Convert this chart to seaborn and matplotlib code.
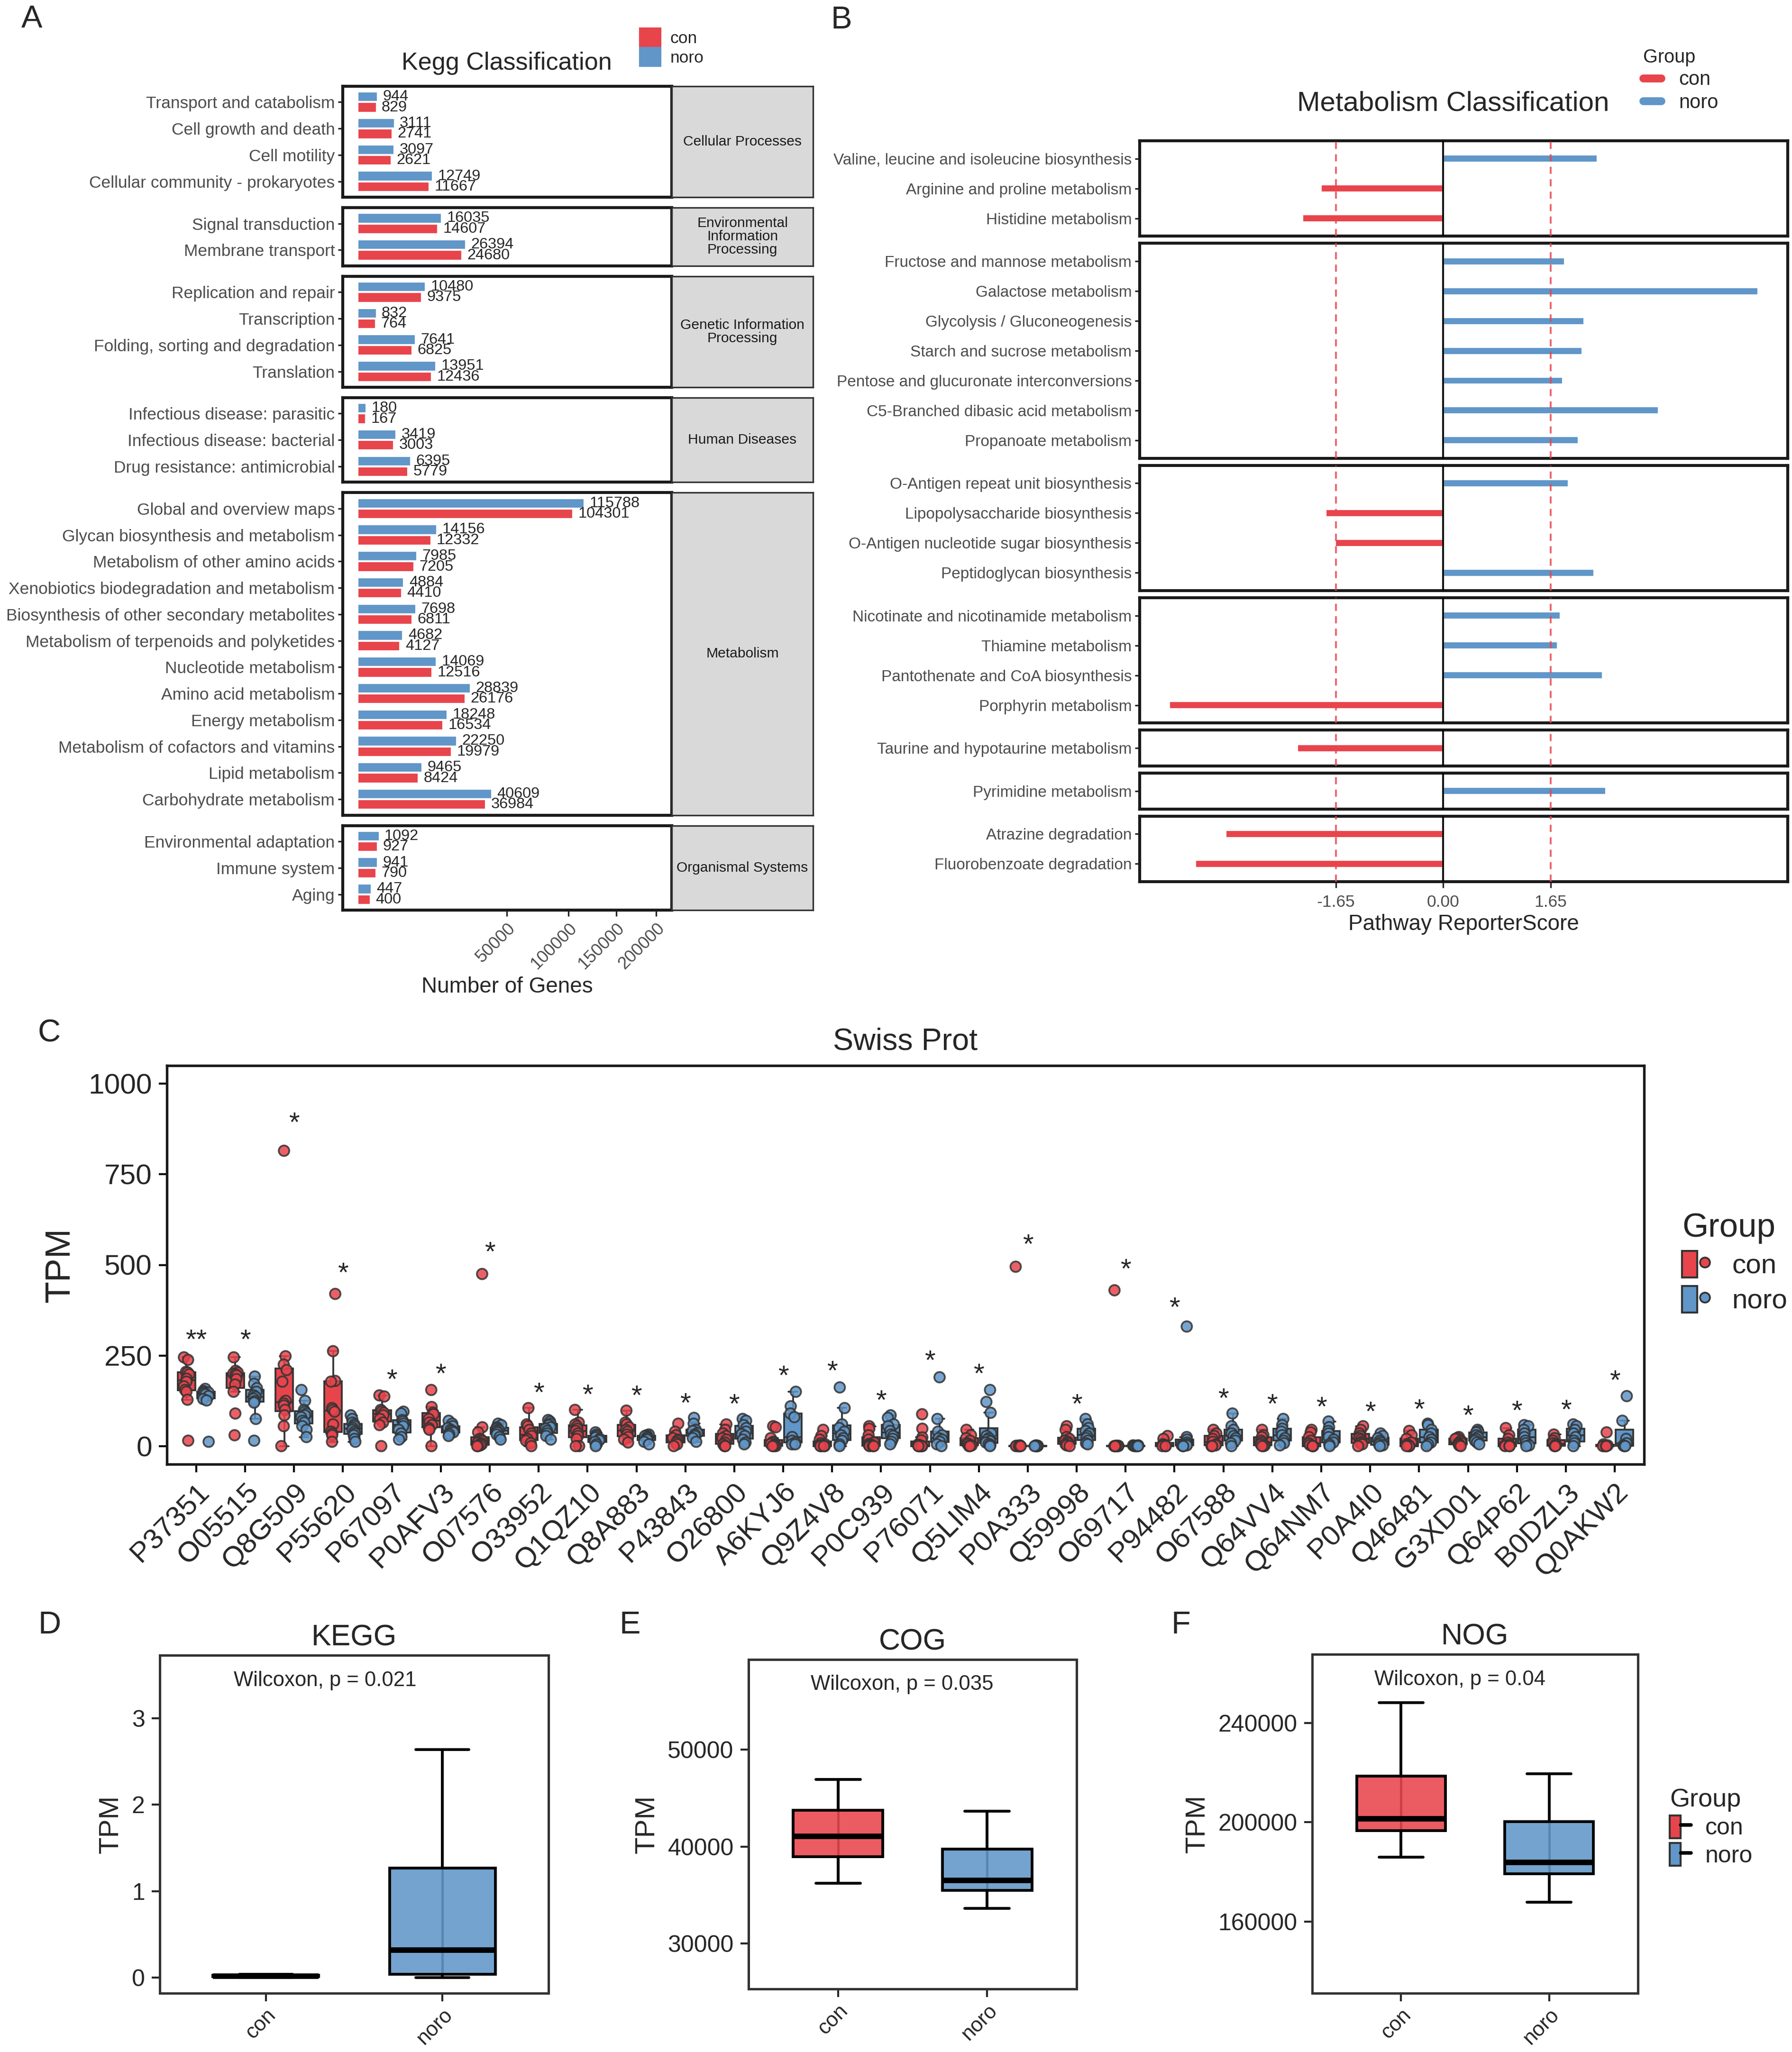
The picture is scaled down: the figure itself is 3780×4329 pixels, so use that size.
import numpy as np
import pandas as pd
import matplotlib
matplotlib.use('Agg')
import matplotlib.pyplot as plt
import seaborn as sns
from matplotlib.patches import Patch
from matplotlib.lines import Line2D
from matplotlib.legend_handler import HandlerTuple

# ---------------- A : Kegg classification (number of genes)
cp_terms = ['Transport and catabolism', 'Cell growth and death', 'Cell motility',
            'Cellular community - prokaryotes']
cp_con = [829, 2741, 2621, 11667]
cp_noro = [944, 3111, 3097, 12749]

eip_terms = ['Signal transduction', 'Membrane transport']
eip_con = [14607, 24680]
eip_noro = [16035, 26394]

gip_terms = ['Replication and repair', 'Transcription', 'Folding, sorting and degradation', 'Translation']
gip_con = [9375, 764, 6825, 12436]
gip_noro = [10480, 832, 7641, 13951]

hd_terms = ['Infectious disease: parasitic', 'Infectious disease: bacterial', 'Drug resistance: antimicrobial']
hd_con = [167, 3003, 5779]
hd_noro = [180, 3419, 6395]

met_terms = ['Global and overview maps', 'Glycan biosynthesis and metabolism',
             'Metabolism of other amino acids', 'Xenobiotics biodegradation and metabolism',
             'Biosynthesis of other secondary metabolites', 'Metabolism of terpenoids and polyketides',
             'Nucleotide metabolism', 'Amino acid metabolism', 'Energy metabolism',
             'Metabolism of cofactors and vitamins', 'Lipid metabolism', 'Carbohydrate metabolism']
met_con = [104301, 12332, 7205, 4410, 6811, 4127, 12516, 26176, 16534, 19979, 8424, 36984]
met_noro = [115788, 14156, 7985, 4884, 7698, 4682, 14069, 28839, 18248, 22250, 9465, 40609]

os_terms = ['Environmental adaptation', 'Immune system', 'Aging']
os_con = [927, 790, 400]
os_noro = [1092, 941, 447]

kegg_strips = ['Cellular Processes', 'Environmental\nInformation\nProcessing',
               'Genetic Information\nProcessing', 'Human Diseases', 'Metabolism', 'Organismal Systems']

# ---------------- B : metabolism reporter score
b1_terms = ['Valine, leucine and isoleucine biosynthesis', 'Arginine and proline metabolism',
            'Histidine metabolism']
b1_score = [2.37, -1.88, -2.16]
b2_terms = ['Fructose and mannose metabolism', 'Galactose metabolism', 'Glycolysis / Gluconeogenesis',
            'Starch and sucrose metabolism', 'Pentose and glucuronate interconversions',
            'C5-Branched dibasic acid metabolism', 'Propanoate metabolism']
b2_score = [1.87, 4.84, 2.17, 2.14, 1.84, 3.31, 2.08]
b3_terms = ['O-Antigen repeat unit biosynthesis', 'Lipopolysaccharide biosynthesis',
            'O-Antigen nucleotide sugar biosynthesis', 'Peptidoglycan biosynthesis']
b3_score = [1.93, -1.81, -1.66, 2.32]
b4_terms = ['Nicotinate and nicotinamide metabolism', 'Thiamine metabolism',
            'Pantothenate and CoA biosynthesis', 'Porphyrin metabolism']
b4_score = [1.80, 1.76, 2.45, -4.21]
b5_terms = ['Taurine and hypotaurine metabolism']
b5_score = [-2.24]
b6_terms = ['Pyrimidine metabolism']
b6_score = [2.50]
b7_terms = ['Atrazine degradation', 'Fluorobenzoate degradation']
b7_score = [-3.34, -3.81]
score_cut = 1.65

# ---------------- C : Swiss Prot TPM per sample
sp_ids = ['P37351', 'O05515', 'Q8G509', 'P55620', 'P67097', 'P0AFV3', 'O07576', 'O33952', 'Q1QZ10',
          'Q8A883', 'P43843', 'O26800', 'A6KYJ6', 'Q9Z4V8', 'P0C939', 'P76071', 'Q5LIM4', 'P0A333',
          'Q59998', 'O69717', 'P94482', 'O67588', 'Q64VV4', 'Q64NM7', 'P0A4I0', 'Q46481', 'G3XD01',
          'Q64P62', 'B0DZL3', 'Q0AKW2']
sp_sig = ['**'] + ['*'] * 29
sp_con = [
    [245, 238, 205, 203, 198, 186, 178, 165, 155, 150, 128, 15],
    [245, 208, 203, 200, 198, 195, 185, 170, 150, 90, 30],
    [815, 248, 225, 210, 178, 125, 118, 112, 100, 85, 55, 0],
    [420, 262, 180, 178, 105, 100, 95, 60, 40, 35, 30, 12],
    [140, 137, 100, 96, 92, 85, 75, 65, 58, 0],
    [155, 108, 92, 88, 75, 65, 58, 50, 45, 0],
    [475, 52, 38, 20, 18, 14, 10, 8, 5, 2, 0, 0],
    [105, 60, 55, 45, 35, 28, 20, 15, 8, 0],
    [100, 65, 60, 55, 48, 42, 35, 28, 20, 0, 0],
    [98, 65, 60, 52, 45, 40, 32, 25, 18, 10],
    [62, 40, 30, 22, 18, 15, 10, 5, 0],
    [60, 45, 35, 28, 22, 18, 10, 5, 0, 0],
    [55, 52, 22, 12, 10, 6, 4, 2, 0, 0, 0],
    [45, 28, 18, 8, 5, 3, 2, 0, 0, 0, 0],
    [55, 48, 30, 18, 10, 6, 4, 2, 0, 0, 0],
    [88, 48, 24, 16, 4, 3, 2, 1, 0, 0, 0, 0, 0, 0],
    [45, 30, 22, 15, 8, 5, 2, 0, 0],
    [495, 2, 1, 1, 0, 0, 0, 0, 0, 0],
    [55, 45, 25, 20, 15, 12, 8, 5, 2, 0],
    [430, 1, 1, 0, 0, 0, 0, 0, 0, 0],
    [28, 20, 5, 3, 2, 0, 0, 0],
    [45, 35, 28, 20, 12, 5, 2, 0, 0],
    [45, 30, 25, 15, 10, 5, 2, 0, 0],
    [45, 38, 25, 15, 8, 3, 0, 0, 0],
    [55, 45, 35, 28, 22, 18, 12, 8, 5, 0],
    [42, 30, 20, 10, 5, 2, 0, 0, 0],
    [25, 22, 20, 15, 10, 8, 5, 2, 0],
    [50, 30, 20, 10, 5, 2, 0, 0, 0],
    [32, 22, 15, 8, 5, 2, 0, 0],
    [38, 5, 2, 0, 0, 0, 0],
]
sp_noro = [
    [158, 152, 150, 148, 146, 143, 138, 130, 126, 12],
    [192, 172, 160, 150, 140, 136, 131, 124, 120, 75, 15],
    [155, 125, 100, 95, 90, 85, 80, 70, 65, 55, 45, 25],
    [85, 75, 65, 60, 55, 50, 45, 40, 35, 30, 20, 12],
    [95, 90, 72, 68, 62, 55, 45, 35, 25, 18],
    [70, 62, 55, 50, 45, 42, 38, 33, 28],
    [62, 58, 52, 48, 45, 42, 38, 32, 25, 18],
    [72, 68, 62, 58, 52, 48, 42, 35, 28, 18],
    [38, 32, 28, 24, 20, 16, 12, 5, 0],
    [32, 30, 28, 25, 22, 18, 12, 5],
    [78, 62, 45, 42, 36, 32, 28, 22, 12],
    [75, 70, 58, 50, 40, 33, 28, 18, 10, 5],
    [150, 110, 90, 80, 25, 15, 10, 5, 5],
    [162, 105, 60, 50, 40, 30, 22, 15, 5, 0],
    [85, 78, 60, 55, 42, 32, 28, 20, 12, 5],
    [190, 75, 40, 30, 22, 18, 12, 5, 0],
    [155, 122, 92, 35, 28, 22, 18, 14, 10, 6, 3, 0],
    [2, 1, 1, 1, 0, 0, 0, 0, 0],
    [75, 60, 50, 42, 35, 28, 22, 15, 8, 5],
    [2, 2, 1, 1, 1, 0, 0, 0, 0],
    [330, 25, 18, 10, 5, 3, 2, 0, 0],
    [90, 55, 45, 35, 28, 22, 15, 8, 0],
    [75, 58, 48, 40, 30, 22, 15, 8, 2],
    [68, 52, 42, 35, 25, 18, 10, 5, 0],
    [35, 28, 22, 15, 10, 5, 2, 0],
    [62, 58, 45, 35, 25, 18, 10, 5, 0],
    [45, 40, 38, 30, 25, 20, 15, 10, 5],
    [58, 55, 45, 35, 25, 15, 8, 2, 0],
    [60, 55, 45, 35, 25, 15, 8, 0],
    [138, 70, 20, 8, 2, 0, 0],
]

# ---------------- D-F : total TPM per sample
kegg_con = [0.0, 0.005, 0.01, 0.015, 0.02, 0.025, 0.03, 0.035, 0.04]
kegg_noro = [0.0, 0.02, 0.04, 0.15, 0.32, 0.8, 1.27, 1.9, 2.64]
cog_con = [36230, 37800, 38940, 40100, 41060, 42500, 43740, 45200, 46930]
cog_noro = [33620, 34800, 35470, 36000, 36500, 38200, 39730, 41500, 43680]
nog_con = [185980, 192000, 196580, 199000, 201410, 210000, 218610, 232000, 248180]
nog_noro = [167840, 174000, 179150, 181500, 183750, 192000, 200120, 210000, 219550]

CON = '#E8444C'
NORO = '#6096C8'
pal = {'con': CON, 'noro': NORO}

sns.set_style('ticks')
plt.rcParams['font.family'] = ['Liberation Sans', 'DejaVu Sans']

W, H = 3780, 4329
fig = plt.figure(figsize=(W / 300, H / 300), dpi=300)


def fbox(l, t, r, b):
    return [l / W, 1 - b / H, (r - l) / W, (b - t) / H]


def fpt(x, y):
    return (x / W, 1 - y / H)


def frame(ax, lw, color):
    for s in ax.spines.values():
        s.set_visible(True)
        s.set_linewidth(lw)
        s.set_color(color)


# ======== panel A
kegg_facets = [(cp_terms, cp_con, cp_noro), (eip_terms, eip_con, eip_noro),
               (gip_terms, gip_con, gip_noro), (hd_terms, hd_con, hd_noro),
               (met_terms, met_con, met_noro), (os_terms, os_con, os_noro)]
sqrt_fwd = lambda v: np.sign(v) * np.sqrt(np.abs(v))
sqrt_inv = lambda v: np.sign(v) * np.asarray(v) ** 2

units = [len(f[0]) + 0.2 for f in kegg_facets]
top, bot, gap = 182, 1920, 22
ppu = (bot - top - gap * (len(units) - 1)) / sum(units)
y0 = top
for i, (terms, con, noro) in enumerate(kegg_facets):
    h = units[i] * ppu
    ax = fig.add_axes(fbox(723, y0, 1417, y0 + h))
    df = pd.DataFrame({'term': terms * 2, 'genes': noro + con,
                       'group': ['noro'] * len(terms) + ['con'] * len(terms)})
    sns.barplot(data=df, x='genes', y='term', hue='group', hue_order=['noro', 'con'],
                palette=pal, orient='h', width=0.8, errorbar=None, saturation=1,
                legend=False, ax=ax)
    for c in ax.containers:
        ax.bar_label(c, fmt='{:.0f}', padding=2.5, fontsize=7.8)
    ax.set_xscale('function', functions=(sqrt_fwd, sqrt_inv))
    ax.set_xlim(-484, 221500)
    ax.set_ylim(len(terms) - 0.4, -0.6)
    ax.set_xlabel('')
    ax.set_ylabel('')
    ax.tick_params(axis='y', length=2.5, width=0.8, labelsize=8.5, labelcolor='#4D4D4D', pad=1.5)
    frame(ax, 1.5, '#1A1A1A')
    if i == len(kegg_facets) - 1:
        ax.set_xticks([50000, 100000, 150000, 200000])
        ax.set_xticklabels(['50000', '100000', '150000', '200000'], rotation=45, ha='right',
                           va='top', rotation_mode='anchor', fontsize=8.8, color='#4D4D4D')
        ax.tick_params(axis='x', length=3, width=0.8, pad=2)
        ax.set_xlabel('Number of Genes', fontsize=11, labelpad=2)
    else:
        ax.set_xticks([])
    sax = fig.add_axes(fbox(1417, y0, 1715, y0 + h))
    sax.set_facecolor('#D9D9D9')
    sax.set_xticks([])
    sax.set_yticks([])
    frame(sax, 0.8, '#333333')
    sax.text(0.5, 0.5, kegg_strips[i], ha='center', va='center', fontsize=7.2,
             color='#1A1A1A', transform=sax.transAxes, linespacing=1.0)
    y0 += h + gap

fig.text(*fpt(1069, 133), 'Kegg Classification', ha='center', va='center', fontsize=12.5)
fig.legend(handles=[Patch(color=CON, label='con'), Patch(color=NORO, label='noro')],
           loc='upper left', bbox_to_anchor=fpt(1350, 60), frameon=False, fontsize=8.5,
           handlelength=1.2, handleheight=1.25, handletextpad=0.6, labelspacing=0.1,
           borderpad=0, borderaxespad=0)

# ======== panel B
b_facets = [(b1_terms, b1_score), (b2_terms, b2_score), (b3_terms, b3_score),
            (b4_terms, b4_score), (b5_terms, b5_score), (b6_terms, b6_score),
            (b7_terms, b7_score)]
units = [len(f[0]) + 0.2 for f in b_facets]
top, bot, gap = 297, 1860, 15
ppu = (bot - top - gap * (len(units) - 1)) / sum(units)
y0 = top
for i, (terms, score) in enumerate(b_facets):
    h = units[i] * ppu
    ax = fig.add_axes(fbox(2404, y0, 3771, y0 + h))
    df = pd.DataFrame({'term': terms, 'score': score,
                       'group': ['con' if s < 0 else 'noro' for s in score]})
    ax.axvline(0, color='black', lw=0.9, zorder=3)
    for v in (-score_cut, score_cut):
        ax.axvline(v, color=CON, lw=0.9, ls=(0, (4, 3)), alpha=0.85, zorder=3)
    sns.barplot(data=df, x='score', y='term', hue='group', hue_order=['con', 'noro'],
                palette=pal, orient='h', dodge=False, width=0.27, errorbar=None,
                saturation=1, legend=False, ax=ax)
    ax.set_xlim(-4.66, 5.29)
    ax.set_ylim(len(terms) - 0.4, -0.6)
    ax.set_xlabel('')
    ax.set_ylabel('')
    ax.tick_params(axis='y', length=2.5, width=0.8, labelsize=8, labelcolor='#4D4D4D', pad=1.5)
    frame(ax, 1.5, '#1A1A1A')
    if i == len(b_facets) - 1:
        ax.set_xticks([-score_cut, 0, score_cut])
        ax.set_xticklabels(['-1.65', '0.00', '1.65'], fontsize=8.5, color='#4D4D4D')
        ax.tick_params(axis='x', length=3, width=0.8)
        ax.set_xlabel('Pathway ReporterScore', fontsize=11, labelpad=2)
    else:
        ax.set_xticks([])
    y0 += h + gap

fig.text(*fpt(3065, 219), 'Metabolism Classification', ha='center', va='center', fontsize=14)
fig.legend(handles=[Line2D([], [], color=CON, lw=4, label='con'),
                    Line2D([], [], color=NORO, lw=4, label='noro')],
           title='Group', loc='upper left', bbox_to_anchor=fpt(3466, 102), frameon=False,
           fontsize=10, title_fontsize=9.5, handlelength=0.9, handletextpad=0.9,
           labelspacing=0.2, borderpad=0, borderaxespad=0, alignment='left')

# ======== panel C
rows = []
for pid, con, noro in zip(sp_ids, sp_con, sp_noro):
    rows += [(pid, 'con', v) for v in con] + [(pid, 'noro', v) for v in noro]
dfc = pd.DataFrame(rows, columns=['protein', 'group', 'tpm'])

ax = fig.add_axes(fbox(352, 2248, 3468, 3089))
sns.boxplot(data=dfc, x='protein', y='tpm', hue='group', hue_order=['con', 'noro'], order=sp_ids,
            palette=pal, width=0.8, gap=0.1, showfliers=False, saturation=1,
            linewidth=0.9, linecolor='#333333', legend=False, ax=ax)
np.random.seed(7)
sns.stripplot(data=dfc, x='protein', y='tpm', hue='group', hue_order=['con', 'noro'], order=sp_ids,
              palette=pal, dodge=True, jitter=0.12, size=5.3, edgecolor='#333333',
              linewidth=0.9, alpha=0.85, legend=False, ax=ax)
for i, (con, noro) in enumerate(zip(sp_con, sp_noro)):
    top_val = max(con + noro)
    ax.text(i, top_val * 1.05 + 32, sp_sig[i], ha='center', va='center', fontsize=14)
ax.set_xlim(-0.6, 29.6)
ax.set_ylim(-50, 1050)
ax.set_yticks([0, 250, 500, 750, 1000])
ax.tick_params(axis='both', length=4, width=1, labelsize=14.5, color='black')
plt.setp(ax.get_xticklabels(), rotation=45, ha='right', rotation_mode='anchor')
ax.set_xlabel('')
ax.set_ylabel('TPM', fontsize=18, labelpad=6)
ax.set_title('Swiss Prot', fontsize=15.5, pad=8)
frame(ax, 1.3, '#1A1A1A')


def box_key(c, marker=True):
    items = [Patch(facecolor=c, edgecolor='#333333', lw=1)]
    if marker:
        items.append(Line2D([], [], marker='o', ms=5, mfc=c, mec='#333333', mew=0.9, ls='none'))
    else:
        items.append(Line2D([], [], color='black', lw=1.8))
    return tuple(items)


fig.legend(handles=[box_key(CON), box_key(NORO)], labels=['con', 'noro'],
           handler_map={tuple: HandlerTuple(ndivide=None)}, title='Group',
           loc='upper left', bbox_to_anchor=fpt(3548, 2558), frameon=False, fontsize=14,
           title_fontsize=17, handlelength=1.1, handleheight=1.1, handletextpad=0.7,
           labelspacing=0.25, borderpad=0, borderaxespad=0, alignment='left')


# ======== panels D-F
def summary_panel(rect, title, con, noro, yticks, ylim, ptxt):
    ax = fig.add_axes(fbox(*rect))
    df = pd.DataFrame({'group': ['con'] * len(con) + ['noro'] * len(noro), 'tpm': con + noro})
    sns.pointplot(data=df, x='group', y='tpm', estimator='median', errorbar=('pi', 100),
                  color='#1A1A1A', linestyle='none', markersize=0,
                  err_kws={'linewidth': 1.2, 'zorder': 0.5}, ax=ax)
    sns.boxplot(data=df, x='group', y='tpm', hue='group', palette=pal, width=0.6, whis=1.5,
                showfliers=False, saturation=1, linecolor='black', linewidth=1.4,
                medianprops={'linewidth': 2.8}, legend=False, ax=ax)
    for p in ax.patches:
        fc = p.get_facecolor()
        p.set_facecolor((fc[0], fc[1], fc[2], 0.88))
    ax.set_xlim(-0.6, 1.6)
    ax.set_ylim(*ylim)
    ax.set_yticks(yticks)
    ax.tick_params(axis='y', length=4, width=1, labelsize=12)
    ax.tick_params(axis='x', length=4, width=1, labelsize=10.5, pad=2)
    plt.setp(ax.get_xticklabels(), rotation=45, ha='right', rotation_mode='anchor')
    ax.set_xlabel('')
    ax.set_ylabel('TPM', fontsize=14, labelpad=4)
    ax.set_title(title, fontsize=15, pad=5)
    ax.text(0.19, 0.925, ptxt, transform=ax.transAxes, fontsize=10.5, ha='left', va='center')
    frame(ax, 1.2, '#333333')
    return ax


summary_panel((337, 3492, 1157, 4205), 'KEGG', kegg_con, kegg_noro, [0, 1, 2, 3],
              (-0.18, 3.73), 'Wilcoxon, p = 0.021')
summary_panel((1579, 3501, 2271, 4196), 'COG', cog_con, cog_noro, [30000, 40000, 50000],
              (25290, 59330), 'Wilcoxon, p = 0.035')
summary_panel((2768, 3490, 3455, 4205), 'NOG', nog_con, nog_noro, [160000, 200000, 240000],
              (131100, 267600), 'Wilcoxon, p = 0.04')

fig.legend(handles=[box_key(CON, False), box_key(NORO, False)], labels=['con', 'noro'],
           handler_map={tuple: HandlerTuple(ndivide=None)}, title='Group',
           loc='upper left', bbox_to_anchor=fpt(3522, 3772), frameon=False, fontsize=12,
           title_fontsize=13, handlelength=0.9, handleheight=1.1, handletextpad=0.6,
           labelspacing=0.15, borderpad=0, borderaxespad=0, alignment='left')

# panel letters
for letter, (x, y) in zip('ABCDEF', [(45, 10), (1752, 12), (80, 2150), (80, 3398),
                                     (1306, 3398), (2471, 3398)]):
    fig.text(*fpt(x, y), letter, fontsize=16, ha='left', va='top')

fig.savefig('out.png', dpi=300)
